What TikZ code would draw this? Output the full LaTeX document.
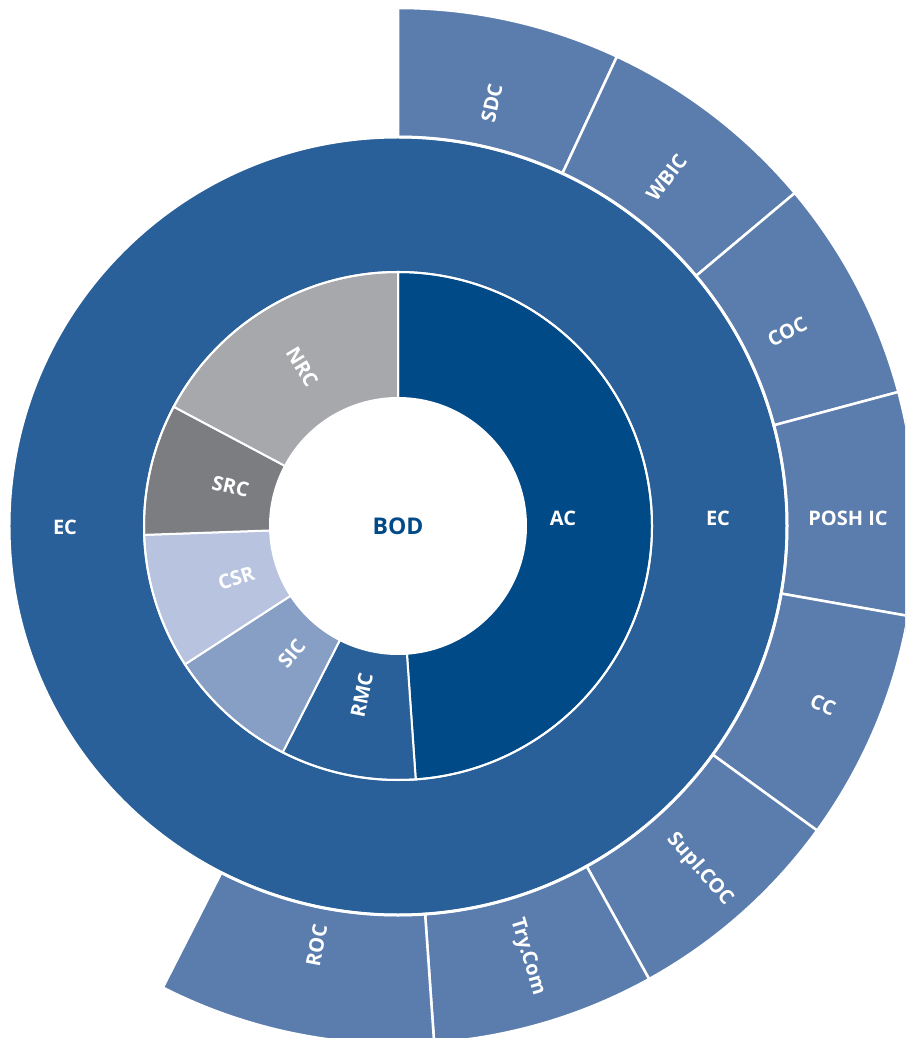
\documentclass[tikz,border=0pt]{standalone}
\usepackage{fontspec}
\setmainfont{Open Sans}
\definecolor{outblue}{HTML}{5B7DAD}
\definecolor{ecblue}{HTML}{2A6099}
\definecolor{acblue}{HTML}{004A87}
\definecolor{sicblue}{HTML}{879EC5}
\definecolor{csrblue}{HTML}{B8C4DF}
\definecolor{srcgray}{HTML}{7C7D81}
\definecolor{nrcgray}{HTML}{A6A8AC}
% 环形扇区: 起始角, 终止角, 内半径, 外半径, 样式
\newcommand{\ringsector}[5]{%
  \filldraw[#5] (#1:#3) arc (#1:#2:#3) -- (#2:#4) arc (#2:#1:#4) -- cycle;}

\begin{document}
\begin{tikzpicture}[
    every node/.style={font=\bfseries\fontsize{20}{24}\selectfont}, % 统一字体
    midseg/.style={draw=white, line width=2pt},   % 中间环分隔线
    outseg/.style={fill=outblue, draw=white, line width=2.5pt}, % 外环扇区
    lbl/.style={text=white, inner sep=0pt},        % 白色标签
    gap/.style={draw=white, line width=3pt}        % 环之间的白色间隙
]
    % 1. 画布范围(裁剪右侧和下侧)
    \clip (-398pt,-512pt) rectangle (507pt,526pt);

    % 2. EC 整环
    \fill[ecblue, even odd rule] (0,0) circle (389pt) (0,0) circle (254pt);

    % 3. 外环 (r = 389~518)
    \foreach \s/\e in {90/65, 65/40, 40/15, 15/-10, -10/-36, -36/-61, -61/-86, -86/-117} {
        \ringsector{\s}{\e}{389pt}{518pt}{outseg}
    }

    % 4. 中间环 (r = 128~254)
    \ringsector{90}{-86}{128pt}{254pt}{midseg, fill=acblue}
    \ringsector{-86}{-117}{128pt}{254pt}{midseg, fill=ecblue}
    \ringsector{-117}{-147}{128pt}{254pt}{midseg, fill=sicblue}
    \ringsector{213}{182}{128pt}{254pt}{midseg, fill=csrblue}
    \ringsector{182}{152}{128pt}{254pt}{midseg, fill=srcgray}
    \ringsector{152}{90}{128pt}{254pt}{midseg, fill=nrcgray}

    % 白色间隙
    \draw[gap] (0,0) circle (389pt);
    \draw[white, line width=2pt] (0,0) circle (254pt);
    \fill[white] (0,0) circle (128pt);

    % 5. 标签
    \node[text=acblue, font=\bfseries\fontsize{23}{27}\selectfont] (bod) at (0,0) {BOD};
    \node[lbl] (ac) at (165pt,8pt) {AC};
    \node[lbl, rotate=77.9] (rmc) at (257.9:173pt) {RMC};
    \node[lbl, rotate=50.1] (sic) at (230.1:166pt) {SIC};
    \node[lbl, rotate=17.9] (csr) at (197.9:170pt) {CSR};
    \node[lbl, rotate=-13.2] (src) at (166.8:172pt) {SRC};
    \node[lbl, rotate=-59] (nrc) at (121:186pt) {NRC};
    \node[lbl] (ecl) at (-333pt,-1pt) {EC};
    \node[lbl] (ecr) at (320pt,8pt) {EC};

    \node[lbl, rotate=77.5] (sdc) at (77.5:433pt) {SDC};
    \node[lbl, rotate=52.4] (wbic) at (52.4:440pt) {WBIC};
    \node[lbl, rotate=26.5] (coc) at (26.5:435pt) {COC};
    \node[lbl] (posh) at (450pt,8pt) {POSH IC};
    \node[lbl, rotate=-22.8] (cc) at (-22.8:461pt) {CC};
    \node[lbl, rotate=-48.7] (supl) at (-48.7:457pt) {Supl.COC};
    \node[lbl, rotate=-73.3] (trycom) at (-73.3:450pt) {Try.Com};
    \node[lbl, rotate=79] (roc) at (-101:427pt) {ROC};

\end{tikzpicture}
\end{document}
